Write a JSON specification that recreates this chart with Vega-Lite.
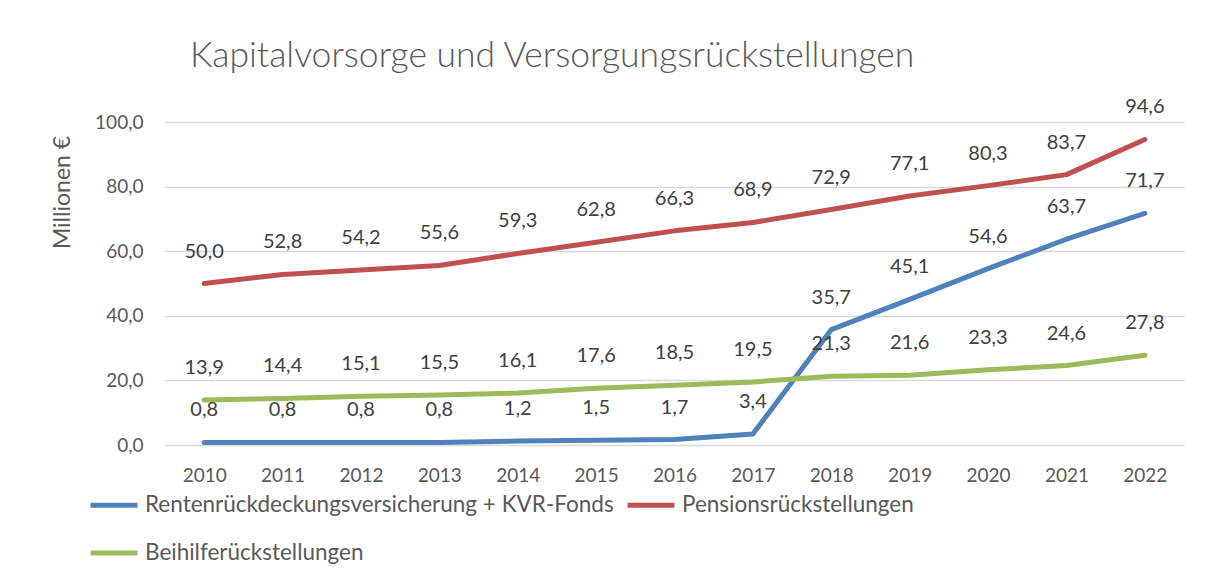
{
  "$schema": "https://vega.github.io/schema/vega-lite/v6.json",
  "width": 1019,
  "height": 323,
  "autosize": {"type": "none"},
  "padding": {"left": 165, "top": 122, "right": 30, "bottom": 134},
  "background": "white",
  "title": {
    "text": "Kapitalvorsorge und Versorgungsrückstellungen",
    "anchor": "start",
    "frame": "group",
    "dx": 25,
    "offset": 23,
    "font": "Lato",
    "fontSize": 35.5,
    "fontWeight": 300,
    "color": "#595959"
  },
  "config": {
    "locale": {"number": {"decimal": ",", "thousands": ".", "grouping": [3], "currency": ["", " €"]}},
    "view": {"stroke": null},
    "font": "Lato"
  },
  "data": {
    "values": [
      {"jahr": "2010", "serie": "Rentenrückdeckungsversicherung + KVR-Fonds", "wert": 0.8},
      {"jahr": "2011", "serie": "Rentenrückdeckungsversicherung + KVR-Fonds", "wert": 0.8},
      {"jahr": "2012", "serie": "Rentenrückdeckungsversicherung + KVR-Fonds", "wert": 0.8},
      {"jahr": "2013", "serie": "Rentenrückdeckungsversicherung + KVR-Fonds", "wert": 0.8},
      {"jahr": "2014", "serie": "Rentenrückdeckungsversicherung + KVR-Fonds", "wert": 1.2},
      {"jahr": "2015", "serie": "Rentenrückdeckungsversicherung + KVR-Fonds", "wert": 1.5},
      {"jahr": "2016", "serie": "Rentenrückdeckungsversicherung + KVR-Fonds", "wert": 1.7},
      {"jahr": "2017", "serie": "Rentenrückdeckungsversicherung + KVR-Fonds", "wert": 3.4},
      {"jahr": "2018", "serie": "Rentenrückdeckungsversicherung + KVR-Fonds", "wert": 35.7},
      {"jahr": "2019", "serie": "Rentenrückdeckungsversicherung + KVR-Fonds", "wert": 45.1},
      {"jahr": "2020", "serie": "Rentenrückdeckungsversicherung + KVR-Fonds", "wert": 54.6},
      {"jahr": "2021", "serie": "Rentenrückdeckungsversicherung + KVR-Fonds", "wert": 63.7},
      {"jahr": "2022", "serie": "Rentenrückdeckungsversicherung + KVR-Fonds", "wert": 71.7},
      {"jahr": "2010", "serie": "Pensionsrückstellungen", "wert": 50.0},
      {"jahr": "2011", "serie": "Pensionsrückstellungen", "wert": 52.8},
      {"jahr": "2012", "serie": "Pensionsrückstellungen", "wert": 54.2},
      {"jahr": "2013", "serie": "Pensionsrückstellungen", "wert": 55.6},
      {"jahr": "2014", "serie": "Pensionsrückstellungen", "wert": 59.3},
      {"jahr": "2015", "serie": "Pensionsrückstellungen", "wert": 62.8},
      {"jahr": "2016", "serie": "Pensionsrückstellungen", "wert": 66.3},
      {"jahr": "2017", "serie": "Pensionsrückstellungen", "wert": 68.9},
      {"jahr": "2018", "serie": "Pensionsrückstellungen", "wert": 72.9},
      {"jahr": "2019", "serie": "Pensionsrückstellungen", "wert": 77.1},
      {"jahr": "2020", "serie": "Pensionsrückstellungen", "wert": 80.3},
      {"jahr": "2021", "serie": "Pensionsrückstellungen", "wert": 83.7},
      {"jahr": "2022", "serie": "Pensionsrückstellungen", "wert": 94.6},
      {"jahr": "2010", "serie": "Beihilferückstellungen", "wert": 13.9},
      {"jahr": "2011", "serie": "Beihilferückstellungen", "wert": 14.4},
      {"jahr": "2012", "serie": "Beihilferückstellungen", "wert": 15.1},
      {"jahr": "2013", "serie": "Beihilferückstellungen", "wert": 15.5},
      {"jahr": "2014", "serie": "Beihilferückstellungen", "wert": 16.1},
      {"jahr": "2015", "serie": "Beihilferückstellungen", "wert": 17.6},
      {"jahr": "2016", "serie": "Beihilferückstellungen", "wert": 18.5},
      {"jahr": "2017", "serie": "Beihilferückstellungen", "wert": 19.5},
      {"jahr": "2018", "serie": "Beihilferückstellungen", "wert": 21.3},
      {"jahr": "2019", "serie": "Beihilferückstellungen", "wert": 21.6},
      {"jahr": "2020", "serie": "Beihilferückstellungen", "wert": 23.3},
      {"jahr": "2021", "serie": "Beihilferückstellungen", "wert": 24.6},
      {"jahr": "2022", "serie": "Beihilferückstellungen", "wert": 27.8}
    ]
  },
  "encoding": {
    "x": {
      "field": "jahr",
      "type": "ordinal",
      "scale": {"type": "point", "padding": 0.5},
      "axis": {
        "title": null,
        "labelAngle": 0,
        "labelFont": "Lato",
        "labelFontSize": 19,
        "labelColor": "#595959",
        "labelPadding": 21,
        "ticks": false,
        "domain": false,
        "grid": false
      }
    },
    "y": {
      "field": "wert",
      "type": "quantitative",
      "scale": {"domain": [0, 100], "nice": false},
      "axis": {
        "title": "Millionen €",
        "titleFont": "Lato",
        "titleFontSize": 23,
        "titleFontWeight": "normal",
        "titleColor": "#595959",
        "titleX": -103,
        "titleY": 70,
        "titleAngle": -90,
        "titleAlign": "center",
        "titleBaseline": "middle",
        "values": [0, 20, 40, 60, 80, 100],
        "format": ".1f",
        "labelFont": "Lato",
        "labelFontSize": 19,
        "labelColor": "#595959",
        "labelPadding": 22,
        "ticks": false,
        "domain": false,
        "grid": true,
        "gridColor": "#d9d9d9",
        "gridWidth": 1.3
      }
    }
  },
  "layer": [
    {
      "mark": {"type": "line", "strokeWidth": 5, "strokeCap": "round", "strokeJoin": "round"},
      "encoding": {
        "color": {
          "field": "serie",
          "type": "nominal",
          "scale": {
            "domain": ["Rentenrückdeckungsversicherung + KVR-Fonds", "Beihilferückstellungen", "Pensionsrückstellungen"],
            "range": ["#4f81bd", "#9bbb59", "#c0504d"]
          },
          "legend": {
            "title": null,
            "orient": "none",
            "legendX": -77,
            "legendY": 357,
            "columns": 2,
            "columnPadding": 3,
            "rowPadding": 10,
            "symbolType": "stroke",
            "symbolSize": 2200,
            "symbolStrokeWidth": 5,
            "labelFont": "Lato",
            "labelFontSize": 22.5,
            "labelColor": "#595959",
            "labelOffset": 5,
            "labelLimit": 600
          }
        }
      }
    },
    {
      "mark": {"type": "text", "dy": -32, "fontSize": 20, "font": "Lato", "color": "#404040", "baseline": "middle"},
      "encoding": {
        "text": {"field": "wert", "type": "quantitative", "format": ".1f"}
      }
    }
  ]
}
